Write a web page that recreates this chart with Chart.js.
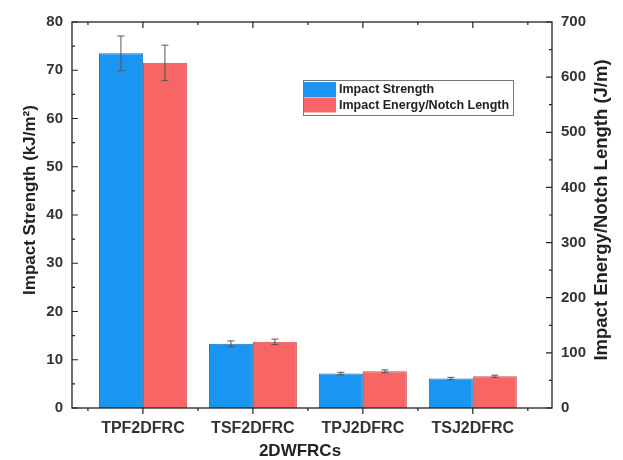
<!DOCTYPE html>
<html>
<head>
<meta charset="utf-8">
<script src="https://cdn.jsdelivr.net/npm/chart.js@4.4.1/dist/chart.umd.min.js"></script>
<style>
html,body{margin:0;padding:0;background:#fff;}
#wrap{width:623px;height:460px;position:relative;}
</style>
</head>
<body>
<div id="wrap"><canvas id="c" width="623" height="460"></canvas></div>
<script>
// ---- data ----
const categories = ['TPF2DFRC', 'TSF2DFRC', 'TPJ2DFRC', 'TSJ2DFRC'];
const strengthLabel = 'Impact Strength';
const energyLabel = 'Impact Energy/Notch Length';
const impactStrength = [73.5, 13.3, 7.15, 6.1];       // kJ/m^2 (left axis)
const impactStrengthErr = [3.6, 0.6, 0.25, 0.25];
const impactEnergy = [626, 120, 66.5, 57.5];           // J/m (right axis)
const impactEnergyErr = [32, 5, 2.5, 2];
const leftTicks = [0, 10, 20, 30, 40, 50, 60, 70, 80];
const rightTicks = [0, 100, 200, 300, 400, 500, 600, 700];
const xTitle = '2DWFRCs';
const yTitle = 'Impact Strength (kJ/m²)';
const y1Title = 'Impact Energy/Notch Length (J/m)';

const BLUE = '#1a96f2', RED = '#f86565';
const FONT = '"Liberation Sans", Arial, sans-serif';

const errBars = {
  id: 'errBars',
  afterDatasetsDraw(chart) {
    const ctx = chart.ctx;
    const errs = [impactStrengthErr, impactEnergyErr];
    chart.data.datasets.forEach((ds, di) => {
      const meta = chart.getDatasetMeta(di);
      const sc = chart.scales[ds.yAxisID];
      meta.data.forEach((el, j) => {
        const v = ds.data[j].y, e = errs[di][j];
        const yt = sc.getPixelForValue(v + e), yb = sc.getPixelForValue(v - e);
        ctx.save();
        ctx.strokeStyle = '#555';
        ctx.lineWidth = 1;
        ctx.beginPath();
        ctx.moveTo(el.x, yt); ctx.lineTo(el.x, yb);
        ctx.moveTo(el.x - 3.5, yt); ctx.lineTo(el.x + 3.5, yt);
        ctx.moveTo(el.x - 3.5, yb); ctx.lineTo(el.x + 3.5, yb);
        ctx.stroke();
        ctx.restore();
      });
    });
  }
};

const decor = {
  id: 'decor',
  afterDraw(chart) {
    const ctx = chart.ctx;
    const a = chart.chartArea;
    const sx = chart.scales.x, sy = chart.scales.y, sy1 = chart.scales.y1;
    ctx.save();
    ctx.strokeStyle = '#222';
    ctx.lineWidth = 1.3;
    ctx.strokeRect(a.left, a.top, a.right - a.left, a.bottom - a.top);
    ctx.lineWidth = 1.2;
    ctx.beginPath();
    for (let v = 0; v <= 80; v += 5) {
      const y = sy.getPixelForValue(v);
      const l = v % 10 === 0 ? 6 : 3;
      ctx.moveTo(a.left, y); ctx.lineTo(a.left + l, y);
    }
    for (let v = 0; v <= 700; v += 50) {
      const y = sy1.getPixelForValue(v);
      const l = v % 100 === 0 ? 6 : 3;
      ctx.moveTo(a.right, y); ctx.lineTo(a.right - l, y);
    }
    for (let v = -0.5; v <= 3.5; v += 0.5) {
      const x = sx.getPixelForValue(v);
      const major = Number.isInteger(v);
      const l = major ? 6 : 3;
      ctx.moveTo(x, a.bottom); ctx.lineTo(x, a.bottom + l);
      ctx.moveTo(x, a.top); ctx.lineTo(x, a.top + l);
    }
    ctx.stroke();

    ctx.fillStyle = '#222';
    ctx.textAlign = 'center';
    ctx.textBaseline = 'middle';
    ctx.font = 'bold 17px ' + FONT;
    ctx.save();
    ctx.translate(30, 200);
    ctx.rotate(-Math.PI / 2);
    ctx.fillText(yTitle, 0, 0);
    ctx.restore();
    ctx.font = 'bold 18.5px ' + FONT;
    ctx.save();
    ctx.translate(602, 210);
    ctx.rotate(-Math.PI / 2);
    ctx.fillText(y1Title, 0, 0);
    ctx.restore();
    ctx.font = 'bold 17px ' + FONT;
    ctx.fillText(xTitle, 300, 451);

    const lx = 303, ly = 80, lw = 210, lh = 35;
    ctx.fillStyle = '#fff';
    ctx.fillRect(lx, ly, lw, lh);
    ctx.strokeStyle = '#777';
    ctx.lineWidth = 1;
    ctx.strokeRect(lx + 0.5, ly + 0.5, lw, lh);
    chart.data.datasets.forEach((ds, i) => {
      const yy = ly + 2 + i * 15.5;
      ctx.fillStyle = ds.backgroundColor;
      ctx.fillRect(lx + 1, yy, 32, 15);
      ctx.fillStyle = '#222';
      ctx.font = 'bold 12.5px ' + FONT;
      ctx.textAlign = 'left';
      ctx.textBaseline = 'middle';
      ctx.fillText(ds.label, lx + 36, yy + 8);
    });
    ctx.restore();
  }
};

new Chart(document.getElementById('c'), {
  type: 'bar',
  data: {
    datasets: [
      {
        label: strengthLabel,
        data: categories.map((c, i) => ({ x: i, y: impactStrength[i] })),
        backgroundColor: BLUE,
        borderColor: '#1470b8',
        borderWidth: 1,
        yAxisID: 'y'
      },
      {
        label: energyLabel,
        data: categories.map((c, i) => ({ x: i, y: impactEnergy[i] })),
        backgroundColor: RED,
        borderColor: '#c84e4e',
        borderWidth: 1,
        yAxisID: 'y1'
      }
    ]
  },
  options: {
    responsive: false,
    animation: false,
    devicePixelRatio: 1,
    layout: { padding: { top: 22, left: 0, right: 0, bottom: 0 } },
    datasets: { bar: { barPercentage: 1.0, categoryPercentage: 0.8 } },
    plugins: { legend: { display: false }, tooltip: { enabled: false } },
    scales: {
      x: {
        type: 'linear',
        offset: false,
        min: -0.645,
        max: 3.72,
        afterBuildTicks: (s) => { s.ticks = categories.map((c, i) => ({ value: i })); },
        afterFit: (s) => { s.height = 52; },
        grid: { display: false, offset: false },
        border: { display: false },
        ticks: {
          callback: (v) => categories[v] ?? '',
          font: { family: FONT, size: 16, weight: 'bold' },
          color: '#333',
          padding: 3,
          maxRotation: 0,
          autoSkip: false
        }
      },
      y: {
        position: 'left',
        min: 0,
        max: 80,
        afterBuildTicks: (s) => { s.ticks = leftTicks.map(v => ({ value: v })); },
        afterFit: (s) => { s.width = 72; },
        grid: { display: false },
        border: { display: false },
        ticks: {
          font: { family: FONT, size: 15, weight: 'bold' },
          color: '#333',
          padding: 1
        }
      },
      y1: {
        position: 'right',
        min: 0,
        max: 700,
        afterBuildTicks: (s) => { s.ticks = rightTicks.map(v => ({ value: v })); },
        afterFit: (s) => { s.width = 71; },
        grid: { display: false },
        border: { display: false },
        ticks: {
          font: { family: FONT, size: 15, weight: 'bold' },
          color: '#333',
          padding: 1
        }
      }
    }
  },
  plugins: [errBars, decor]
});
</script>
</body>
</html>
